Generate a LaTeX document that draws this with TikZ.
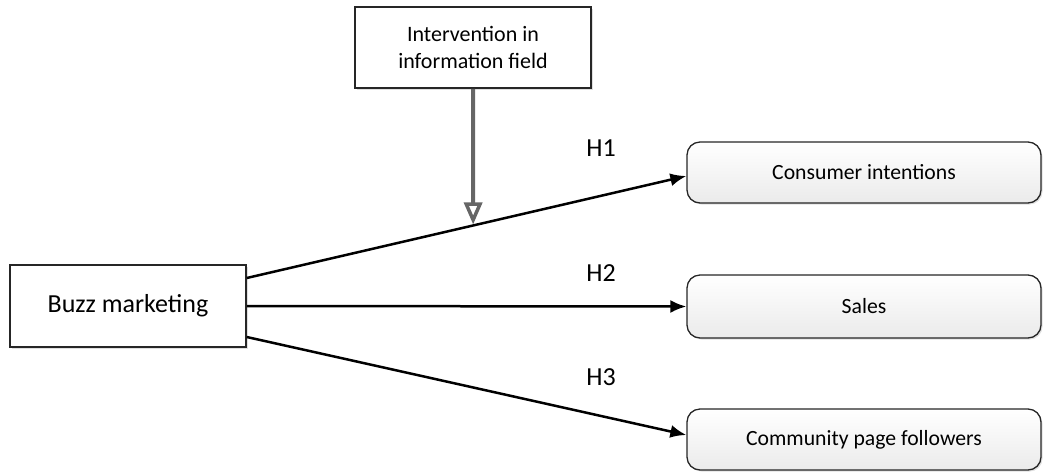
\documentclass[tikz,border=0pt]{standalone}
\usepackage{fontspec}
\setmainfont{Carlito}
\usetikzlibrary{arrows.meta,calc,shadows}
\begin{document}
\begin{tikzpicture}[x=1pt,y=-1pt,
  sqbox/.style={draw=black!85, line width=1.5pt, fill=white, minimum width=236pt,
    align=center, drop shadow={opacity=0.25, shadow xshift=1.5pt, shadow yshift=-1.5pt}},
  rbox/.style={draw=black!85, line width=1.3pt, rounded corners=13pt, minimum width=354pt,
    top color=white, bottom color=gray!16, font=\fontsize{21.7}{26}\selectfont,
    drop shadow={opacity=0.25, shadow xshift=1.5pt, shadow yshift=-1.5pt}},
  hlabel/.style={font=\fontsize{26}{30}\selectfont},
  conn/.style={line width=2.5pt, -{Latex[length=16pt,width=13pt]}},
  modarrow/.style={draw=black!60, line width=4pt, -{Triangle[open,length=22pt,width=18pt,line width=3.5pt]}}
]
\useasboundingbox (0,0) rectangle (1044,472);

\node[sqbox, minimum height=81pt, font=\fontsize{22}{26.7}\selectfont] (interv) at (473,47.5) {Intervention in\\information field};
\node[sqbox, minimum height=82pt, font=\fontsize{26}{31}\selectfont] (buzz) at (128,306) {Buzz marketing};

\node[rbox, minimum height=61pt] (ci) at (864,172.5) {Consumer intentions};
\node[rbox, minimum height=63pt] (sales) at (864,306.5) {Sales};
\node[rbox, minimum height=61pt] (comm) at (864,439.5) {Community page followers};

\coordinate (a1) at ([yshift=28pt]buzz.east);
\coordinate (b1) at ([yshift=-3.5pt]ci.west);
\coordinate (a3) at ([yshift=-31pt]buzz.east);
\coordinate (b3) at ([yshift=4.5pt]comm.west);

\draw[conn] (a1) -- (b1);
\draw[conn] (buzz.east) -- (sales.west);
\draw[conn] (a3) -- (b3);

\coordinate (m) at ($(a1)!0.515!(b1)$);
\draw[modarrow] (interv.south) -- ([yshift=1pt]m);

\node[hlabel] (h1) at (601,148) {H1};
\node[hlabel] (h2) at (601,273) {H2};
\node[hlabel] (h3) at (601,377) {H3};
\end{tikzpicture}
\end{document}
